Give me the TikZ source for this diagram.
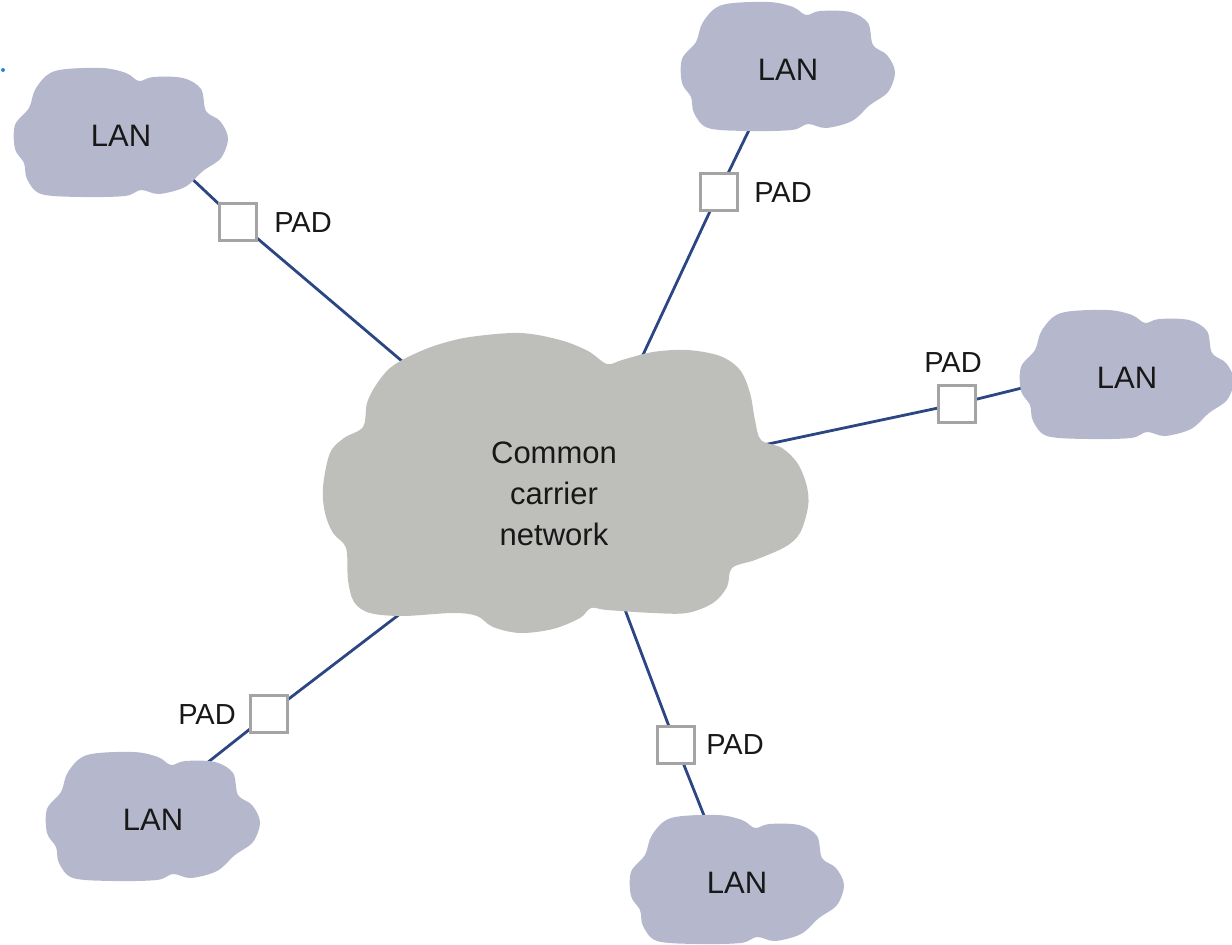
\documentclass[tikz,border=0pt]{standalone}
\usepackage{fontspec}
\setmainfont{Liberation Sans}
\pgfdeclarelayer{links}
\pgfsetlayers{links,main}

\definecolor{lanfill}{HTML}{B5B8CC}
\definecolor{wanfill}{HTML}{BEBFBB}
\definecolor{linkblue}{HTML}{2B4682}
\definecolor{padedge}{HTML}{A4A4A4}
\definecolor{ink}{HTML}{181818}
\definecolor{dotblue}{HTML}{2A88D8}

\tikzset{
  link/.style={draw=linkblue, line width=1.4pt, shorten <=-10pt, shorten >=-10pt},
  padbox/.style={draw=padedge, fill=white, line width=1.7pt, minimum size=18.5pt, inner sep=0pt},
  padlabel/.style={font=\fontsize{14.5}{17}\selectfont, text=ink, inner sep=0pt},
  lanlabel/.style={font=\fontsize{15.5}{18}\selectfont, text=ink, inner sep=0pt},
  wanlabel/.style={font=\fontsize{15.5}{20.5}\selectfont, text=ink, align=center, inner sep=0pt},
  cloudline/.style={smooth cycle, tension=0.55},
}

% A LAN cloud outline; #1 = centre, #2 = label name
\newcommand\lancloud[2]{%
  \begin{scope}[shift={#1}]
    \fill[lanfill] plot[cloudline] coordinates {
      (-66,-62) (-20,-65) (5,-60) (18,-52) (32,-56) (62,-55) (80,-44)
      (85,-22) (99,-12) (107,5) (100,25) (82,38) (64,54) (38,61)
      (20,57) (4,63) (-40,64) (-80,61) (-94,46) (-97,30) (-106,16)
      (-106,-8) (-92,-25) (-85,-45)};
    \node[lanlabel] (#2) at (0,3) {LAN};
  \end{scope}%
}

\begin{document}
\begin{tikzpicture}[x=0.5pt, y=-0.5pt]
  \useasboundingbox (0,0) rectangle (1232,945);

  % stray dot in the corner
  \fill[dotblue] (3,70) circle [radius=2];

  % common carrier network cloud
  \fill[wanfill] plot[cloudline] coordinates {
    (363,427) (367,403) (376,385) (390,368) (410,356) (437,345) (470,337)
    (520,333) (560,340) (588,351) (607,364) (622,360) (653,352) (687,350)
    (720,356) (740,370) (750,393) (755,420) (761,440) (782,448) (798,464)
    (807,487) (808,507) (800,533) (785,547) (755,560) (732,568) (727,587)
    (713,603) (687,613) (653,613) (607,610) (591,608) (580,618) (553,629)
    (520,633) (493,627) (477,616) (453,613) (403,616) (370,613) (354,602)
    (348,580) (346,548) (333,533) (325,513) (323,487) (330,453) (344,438)};
  \node[wanlabel] (wan) at (554,494) {Common\\carrier\\network};

  % LAN clouds
  \lancloud{(121,133)}{lan1}
  \lancloud{(788,67)}{lan2}
  \lancloud{(1127,375)}{lan3}
  \lancloud{(153,817)}{lan4}
  \lancloud{(737,880)}{lan5}

  % attachment points on the cloud rims
  \coordinate (a1) at (188,175);  \coordinate (c1) at (403,362);
  \coordinate (a2) at (750,128);  \coordinate (c2) at (642,357);
  \coordinate (a3) at (1022,388); \coordinate (c3) at (773,443);
  \coordinate (a4) at (207,763);  \coordinate (c4) at (392,620);
  \coordinate (a5) at (705,818);  \coordinate (c5) at (627,615);

  % PAD boxes and their labels
  \node[padbox] (pad1) at (238,222) {};
  \node[padbox] (pad2) at (719,192) {};
  \node[padbox] (pad3) at (957,404) {};
  \node[padbox] (pad4) at (269,714) {};
  \node[padbox] (pad5) at (676,745) {};
  \node[padlabel] (pl1) at (303,223) {PAD};
  \node[padlabel] (pl2) at (783,193) {PAD};
  \node[padlabel] (pl3) at (953,363) {PAD};
  \node[padlabel] (pl4) at (207,715) {PAD};
  \node[padlabel] (pl5) at (735,745) {PAD};

  % links, drawn beneath the clouds and boxes
  \begin{pgfonlayer}{links}
    \draw[link] (a1) -- (pad1.center) -- (c1);
    \draw[link] (a2) -- (pad2.center) -- (c2);
    \draw[link] (a3) -- (pad3.center) -- (c3);
    \draw[link] (a4) -- (pad4.center) -- (c4);
    \draw[link] (a5) -- (pad5.center) -- (c5);
  \end{pgfonlayer}
\end{tikzpicture}
\end{document}
